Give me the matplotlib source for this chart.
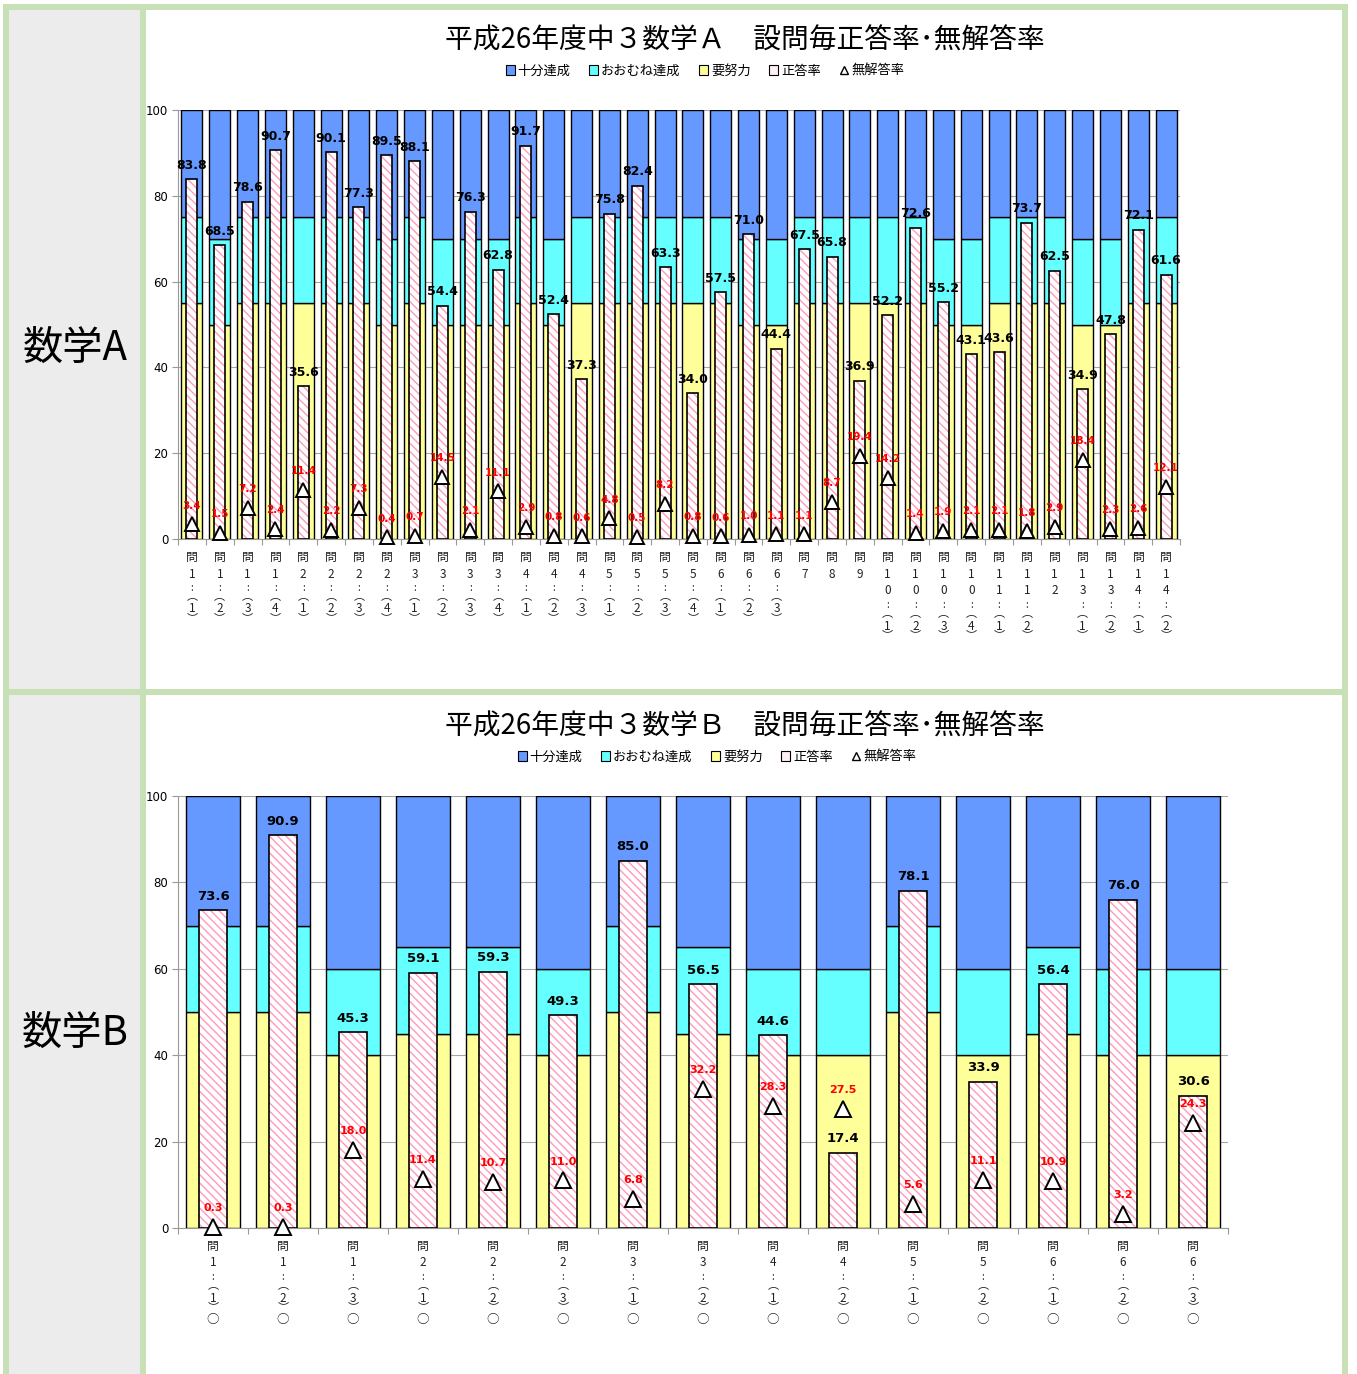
import numpy as np
import matplotlib.pyplot as plt
from matplotlib.patches import Rectangle, Patch
from matplotlib.lines import Line2D

plt.rcParams['font.family'] = ['Noto Sans CJK JP', 'DejaVu Sans']
plt.rcParams['hatch.linewidth'] = 1.0

# 数学A
labels_a = ['1-1', '1-2', '1-3', '1-4', '2-1', '2-2', '2-3', '2-4',
            '3-1', '3-2', '3-3', '3-4', '4-1', '4-2', '4-3',
            '5-1', '5-2', '5-3', '5-4', '6-1', '6-2', '6-3', '7', '8', '9',
            '10-1', '10-2', '10-3', '10-4', '11-1', '11-2', '12',
            '13-1', '13-2', '14-1', '14-2']
correct_a = [83.8, 68.5, 78.6, 90.7, 35.6, 90.1, 77.3, 89.5, 88.1, 54.4, 76.3, 62.8,
             91.7, 52.4, 37.3, 75.8, 82.4, 63.3, 34.0, 57.5, 71.0, 44.4, 67.5, 65.8,
             36.9, 52.2, 72.6, 55.2, 43.1, 43.6, 73.7, 62.5, 34.9, 47.8, 72.1, 61.6]
noans_a = [3.4, 1.5, 7.2, 2.4, 11.4, 2.2, 7.3, 0.4, 0.7, 14.5, 2.1, 11.1,
           2.9, 0.8, 0.6, 4.8, 0.5, 8.2, 0.8, 0.6, 1.0, 1.1, 1.1, 8.7,
           19.4, 14.2, 1.4, 1.9, 2.1, 2.1, 1.8, 2.9, 18.4, 2.3, 2.6, 12.1]
# 要努力 / おおむね達成 の上限
low_a = [55, 50, 55, 55, 55, 55, 55, 50, 55, 50, 50, 50, 55, 50, 55, 55, 55, 55,
         55, 55, 50, 50, 55, 55, 55, 55, 55, 50, 50, 55, 55, 55, 50, 50, 55, 55]
mid_a = [75, 70, 75, 75, 75, 75, 75, 70, 75, 70, 70, 70, 75, 70, 75, 75, 75, 75,
         75, 75, 70, 70, 75, 75, 75, 75, 75, 70, 70, 75, 75, 75, 70, 70, 75, 75]

# 数学B
labels_b = ['1-1', '1-2', '1-3', '2-1', '2-2', '2-3', '3-1', '3-2',
            '4-1', '4-2', '5-1', '5-2', '6-1', '6-2', '6-3']
correct_b = [73.6, 90.9, 45.3, 59.1, 59.3, 49.3, 85.0, 56.5, 44.6, 17.4, 78.1, 33.9, 56.4, 76.0, 30.6]
noans_b = [0.3, 0.3, 18.0, 11.4, 10.7, 11.0, 6.8, 32.2, 28.3, 27.5, 5.6, 11.1, 10.9, 3.2, 24.3]
low_b = [50, 50, 40, 45, 45, 40, 50, 45, 40, 40, 50, 40, 45, 40, 40]
mid_b = [70, 70, 60, 65, 65, 60, 70, 65, 60, 60, 70, 60, 65, 60, 60]

BLUE = '#6699ff'
CYAN = '#66ffff'
YELLOW = '#ffff99'
PINK = '#ff99bb'
GREEN = '#c8e0b6'

W, H = 1357, 1374
fig = plt.figure(figsize=(W / 100, H / 100), dpi=100)

# table background
bg = fig.add_axes([0, 0, 1, 1], zorder=-10)
bg.set_xlim(0, W)
bg.set_ylim(H, 0)
bg.axis('off')
rects = [(9, 10, 131, H, '#ececec'),
         (3, 4, 6, H, GREEN), (3, 4, 1345, 6, GREEN), (1342, 4, 6, H, GREEN),
         (140, 4, 6, H, GREEN), (3, 689, 1345, 6, GREEN)]
for x, y, w, h, c in rects:
    bg.add_patch(Rectangle((x, y), w, h, facecolor=c, edgecolor='none'))
bg.text(75, 348, '数学A', fontsize=29, ha='center', va='center')
bg.text(75, 1033, '数学B', fontsize=29, ha='center', va='center')


def draw_xlabels(ax, labels, circle=False):
    # vertical labels: 問 / number / -( / n) / ○
    for i, lab in enumerate(labels):
        main, _, sub = lab.partition('-')
        items = [('問', 18, 8.5)]
        y = 18
        for ch in main:
            y += 17
            items.append((ch, y, 8.5))
        if sub:
            items += [(':', y + 14, 7), ('︵', y + 22, 8), (sub, y + 35, 8.5), ('︶', y + 44, 8)]
            y += 43
        if circle:
            items.append(('○', y + 14, 9))
        for ch, dy, fs in items:
            ax.annotate(ch, xy=(i, 0), xycoords=('data', 'axes fraction'),
                        xytext=(0, -dy * 0.72), textcoords='offset points',
                        ha='center', va='center', fontsize=fs, color='#222222')


def draw_chart(rect, labels, correct, noans, low, mid, title, legend_x,
               barw, ms, fs_lab, fs_red, circle):
    ax = fig.add_axes(rect)
    n = len(labels)
    x = np.arange(n)
    low = np.array(low)
    mid = np.array(mid)
    ax.bar(x, low, barw, color=YELLOW, edgecolor='black', lw=1.0, zorder=2)
    ax.bar(x, mid - low, barw, bottom=low, color=CYAN, edgecolor='black', lw=1.0, zorder=2)
    ax.bar(x, 100 - mid, barw, bottom=mid, color=BLUE, edgecolor='black', lw=1.0, zorder=2)
    ax.bar(x, correct, 0.4, color='white', edgecolor=PINK, lw=0, hatch='\\\\\\\\', zorder=3)
    ax.bar(x, correct, 0.4, fill=False, edgecolor='black', lw=1.2, zorder=4)
    ax.plot(x, noans, ls='none', marker='^', ms=ms, mfc='white', mec='black', mew=1.4,
            zorder=5, clip_on=False)
    for i in range(n):
        ax.annotate(f'{correct[i]:.1f}', (i, correct[i]), xytext=(0, 10),
                    textcoords='offset points', ha='center', va='center',
                    fontsize=fs_lab, fontweight='bold', family='DejaVu Sans', zorder=6)
        ax.annotate(f'{noans[i]:.1f}', (i, noans[i]), xytext=(0, 13.5),
                    textcoords='offset points', ha='center', va='center',
                    fontsize=fs_red, fontweight='bold', color='red',
                    family='DejaVu Sans', zorder=6)

    ax.set_xlim(-0.5, n - 0.5)
    ax.set_ylim(0, 100)
    ax.set_yticks([0, 20, 40, 60, 80, 100])
    ax.set_xticks(np.arange(-0.5, n, 1))
    ax.set_xticklabels([])
    ax.tick_params(axis='x', length=4, color='#999999')
    ax.tick_params(axis='y', length=4, color='#999999', labelsize=8.5, pad=3)
    for lab in ax.get_yticklabels():
        lab.set_family('DejaVu Sans')
    ax.yaxis.grid(True, color='#a6a6a6', lw=0.8, zorder=0)
    ax.set_axisbelow(True)
    for s in ['top', 'right']:
        ax.spines[s].set_visible(False)
    for s in ['left', 'bottom']:
        ax.spines[s].set_color('#999999')
        ax.spines[s].set_linewidth(0.8)
    draw_xlabels(ax, labels, circle)

    top_px = (1 - rect[1] - rect[3]) * H
    fig.text(745 / W, 1 - (top_px - 69) / H, title, fontsize=20, ha='center', va='center')
    handles = [Patch(facecolor=BLUE, edgecolor='black', lw=0.8),
               Patch(facecolor=CYAN, edgecolor='black', lw=0.8),
               Patch(facecolor=YELLOW, edgecolor='black', lw=0.8),
               Patch(facecolor='#fff0f5', edgecolor='black', lw=0.8),
               Line2D([], [], ls='none', marker='^', ms=6, mfc='white', mec='black', mew=1)]
    fig.legend(handles, ['十分達成', 'おおむね達成', '要努力', '正答率', '無解答率'],
               loc='center', bbox_to_anchor=(legend_x / W, 1 - (top_px - 39) / H),
               ncol=5, frameon=False, fontsize=9.5, handlelength=0.7, handleheight=0.7,
               handletextpad=0.2, columnspacing=1.4)
    return ax


draw_chart([178 / W, 1 - 539 / H, 1002 / W, 429 / H], labels_a, correct_a, noans_a,
           low_a, mid_a, '平成26年度中３数学Ａ　設問毎正答率･無解答率', 705,
           0.76, 10, 9, 7.5, False)
draw_chart([178 / W, 1 - 1228 / H, 1050 / W, 432 / H], labels_b, correct_b, noans_b,
           low_b, mid_b, '平成26年度中３数学Ｂ　設問毎正答率･無解答率', 717,
           0.77, 11, 9.5, 8, True)

fig.savefig('out.png', dpi=100)
